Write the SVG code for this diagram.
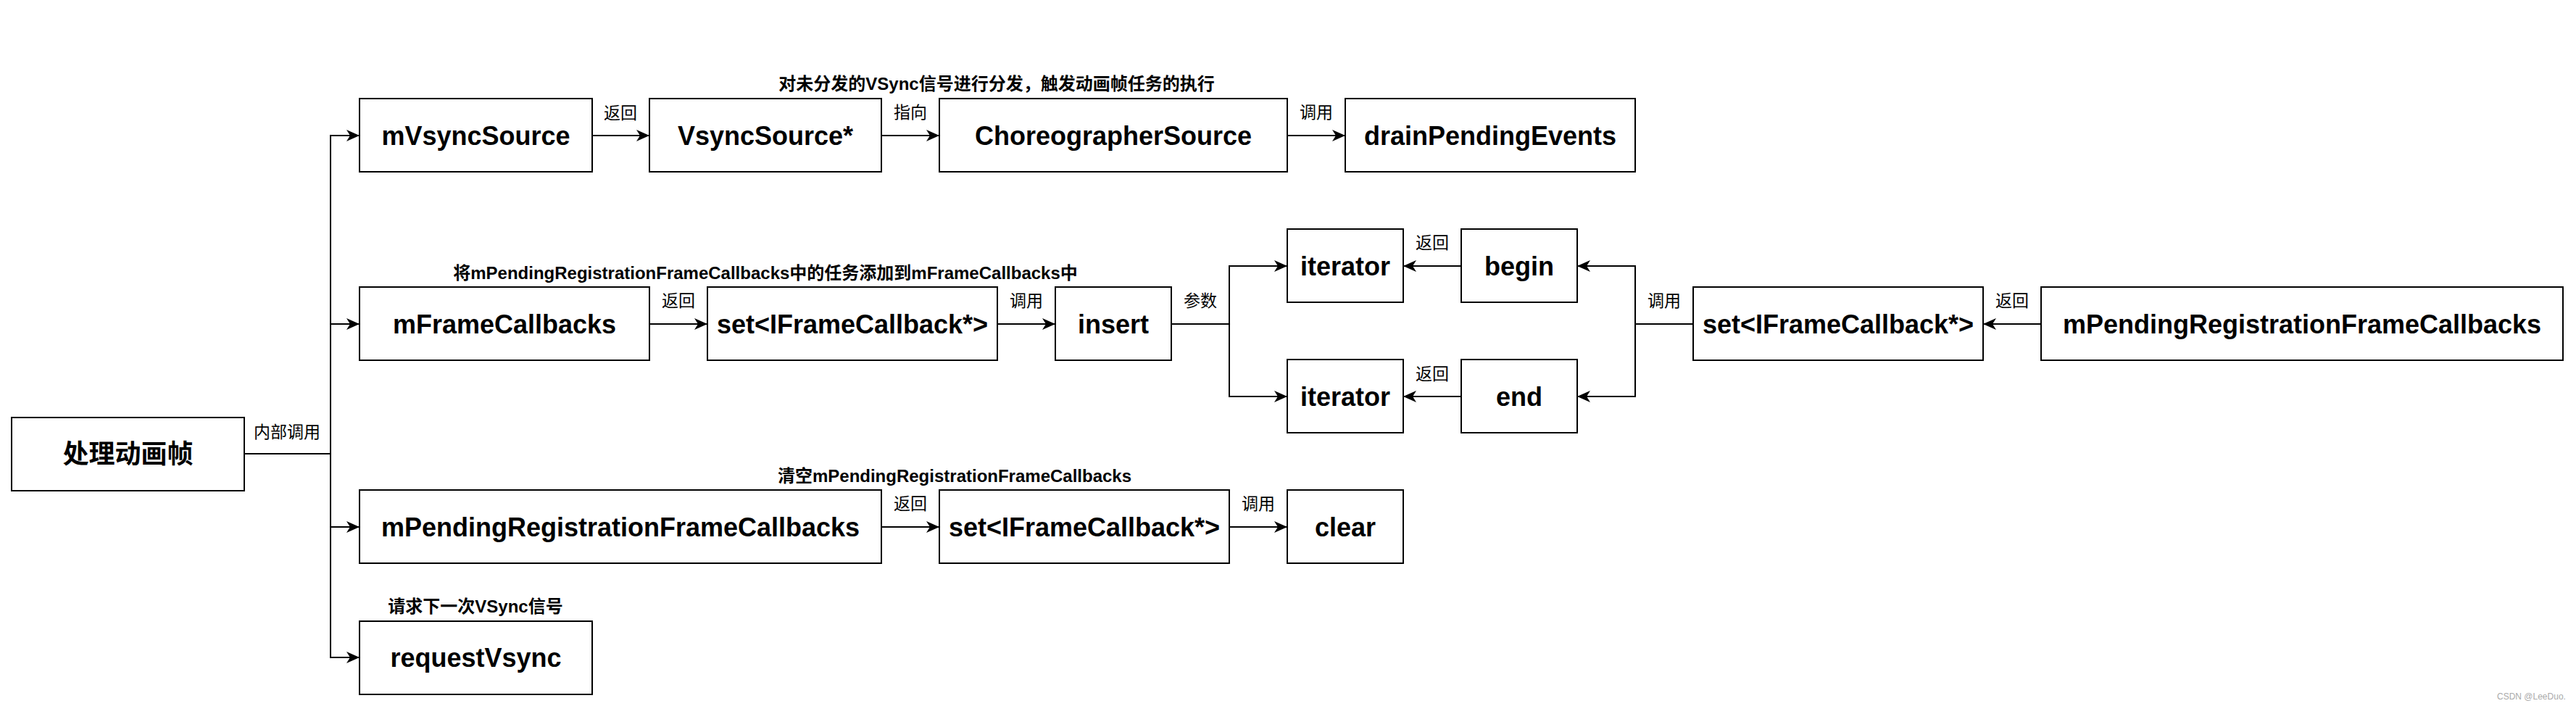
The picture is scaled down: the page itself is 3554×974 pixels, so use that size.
<svg xmlns="http://www.w3.org/2000/svg" width="3554" height="974" viewBox="0 0 3554 974">
<style>
.box{fill:#fff;stroke:#000;stroke-width:2}
.nt{font-family:"Liberation Sans","Noto Sans CJK SC",sans-serif;font-weight:bold;font-size:36px;text-anchor:middle;fill:#000}
.el{font-family:"Liberation Sans","Noto Sans CJK SC",sans-serif;font-size:23px;text-anchor:middle;fill:#000}
.tl{font-family:"Liberation Sans","Noto Sans CJK SC",sans-serif;font-weight:bold;font-size:24px;text-anchor:middle;fill:#000}
.cn{fill:none;stroke:#000;stroke-width:2}
.wm{font-family:"Liberation Sans",sans-serif;font-size:12px;fill:#aaa}
</style>
<defs>
<marker id="ah" viewBox="0 0 18 16" refX="17" refY="8" markerWidth="18" markerHeight="16" markerUnits="userSpaceOnUse" orient="auto">
<path d="M0,0 L18,8 L0,16 L5,8 Z" fill="#000"/>
</marker>
</defs>
<rect width="3554" height="974" fill="#fff"/>
<g id="connectors">
<path class="cn" d="M337,626 H456 V187 H495" marker-end="url(#ah)"/>
<path class="cn" d="M456,447 H495" marker-end="url(#ah)"/>
<path class="cn" d="M456,626 V727 H495" marker-end="url(#ah)"/>
<path class="cn" d="M456,727 V907 H495" marker-end="url(#ah)"/>
<path class="cn" d="M817,187 H895" marker-end="url(#ah)"/>
<path class="cn" d="M1216,187 H1295" marker-end="url(#ah)"/>
<path class="cn" d="M1776,187 H1855" marker-end="url(#ah)"/>
<path class="cn" d="M896,447 H975" marker-end="url(#ah)"/>
<path class="cn" d="M1376,447 H1455" marker-end="url(#ah)"/>
<path class="cn" d="M1616,447 H1696 V367 H1775" marker-end="url(#ah)"/>
<path class="cn" d="M1696,447 V547 H1775" marker-end="url(#ah)"/>
<path class="cn" d="M2016,367 H1937" marker-end="url(#ah)"/>
<path class="cn" d="M2016,547 H1937" marker-end="url(#ah)"/>
<path class="cn" d="M2336,447 H2256 V367 H2177" marker-end="url(#ah)"/>
<path class="cn" d="M2256,447 V547 H2177" marker-end="url(#ah)"/>
<path class="cn" d="M2816,447 H2737" marker-end="url(#ah)"/>
<path class="cn" d="M1216,727 H1295" marker-end="url(#ah)"/>
<path class="cn" d="M1696,727 H1775" marker-end="url(#ah)"/>
<text class="el" x="396" y="604">内部调用</text>
<text class="el" x="856" y="164">返回</text>
<text class="el" x="1256" y="163">指向</text>
<text class="el" x="1816" y="163">调用</text>
<text class="el" x="936" y="423">返回</text>
<text class="el" x="1416" y="423">调用</text>
<text class="el" x="1656" y="423">参数</text>
<text class="el" x="1976" y="343">返回</text>
<text class="el" x="1976" y="524">返回</text>
<text class="el" x="2296" y="423">调用</text>
<text class="el" x="2776" y="423">返回</text>
<text class="el" x="1256" y="703">返回</text>
<text class="el" x="1736" y="703">调用</text>
</g>
<g id="titles">
<text class="tl" x="1375" y="124">对未分发的VSync信号进行分发，触发动画帧任务的执行</text>
<text class="tl" x="1056" y="385">将mPendingRegistrationFrameCallbacks中的任务添加到mFrameCallbacks中</text>
<text class="tl" x="1317" y="665">清空mPendingRegistrationFrameCallbacks</text>
<text class="tl" x="656" y="845">请求下一次VSync信号</text>
</g>
<g id="n-handle"><rect class="box" x="16" y="576" width="321" height="101"/><text class="nt" x="176.5" y="639">处理动画帧</text></g>
<g id="n-mVsyncSource"><rect class="box" x="496" y="136" width="321" height="101"/><text class="nt" x="656.5" y="200">mVsyncSource</text></g>
<g id="n-VsyncSourcePtr"><rect class="box" x="896" y="136" width="320" height="101"/><text class="nt" x="1056" y="200">VsyncSource*</text></g>
<g id="n-ChoreographerSource"><rect class="box" x="1296" y="136" width="480" height="101"/><text class="nt" x="1536" y="200">ChoreographerSource</text></g>
<g id="n-drainPendingEvents"><rect class="box" x="1856" y="136" width="400" height="101"/><text class="nt" x="2056" y="200">drainPendingEvents</text></g>
<g id="n-mFrameCallbacks"><rect class="box" x="496" y="396" width="400" height="101"/><text class="nt" x="696" y="460">mFrameCallbacks</text></g>
<g id="n-set1"><rect class="box" x="976" y="396" width="400" height="101"/><text class="nt" x="1176" y="460">set&lt;IFrameCallback*&gt;</text></g>
<g id="n-insert"><rect class="box" x="1456" y="396" width="160" height="101"/><text class="nt" x="1536" y="460">insert</text></g>
<g id="n-iterator1"><rect class="box" x="1776" y="316" width="160" height="101"/><text class="nt" x="1856" y="380">iterator</text></g>
<g id="n-begin"><rect class="box" x="2016" y="316" width="160" height="101"/><text class="nt" x="2096" y="380">begin</text></g>
<g id="n-iterator2"><rect class="box" x="1776" y="496" width="160" height="101"/><text class="nt" x="1856" y="560">iterator</text></g>
<g id="n-end"><rect class="box" x="2016" y="496" width="160" height="101"/><text class="nt" x="2096" y="560">end</text></g>
<g id="n-set2"><rect class="box" x="2336" y="396" width="400" height="101"/><text class="nt" x="2536" y="460">set&lt;IFrameCallback*&gt;</text></g>
<g id="n-mPending1"><rect class="box" x="2816" y="396" width="720" height="101"/><text class="nt" x="3176" y="460">mPendingRegistrationFrameCallbacks</text></g>
<g id="n-mPending2"><rect class="box" x="496" y="676" width="720" height="101"/><text class="nt" x="856" y="740">mPendingRegistrationFrameCallbacks</text></g>
<g id="n-set3"><rect class="box" x="1296" y="676" width="400" height="101"/><text class="nt" x="1496" y="740">set&lt;IFrameCallback*&gt;</text></g>
<g id="n-clear"><rect class="box" x="1776" y="676" width="160" height="101"/><text class="nt" x="1856" y="740">clear</text></g>
<g id="n-requestVsync"><rect class="box" x="496" y="857" width="321" height="101"/><text class="nt" x="656.5" y="920">requestVsync</text></g>
<text class="wm" x="3445" y="965">CSDN @LeeDuo.</text>
</svg>
